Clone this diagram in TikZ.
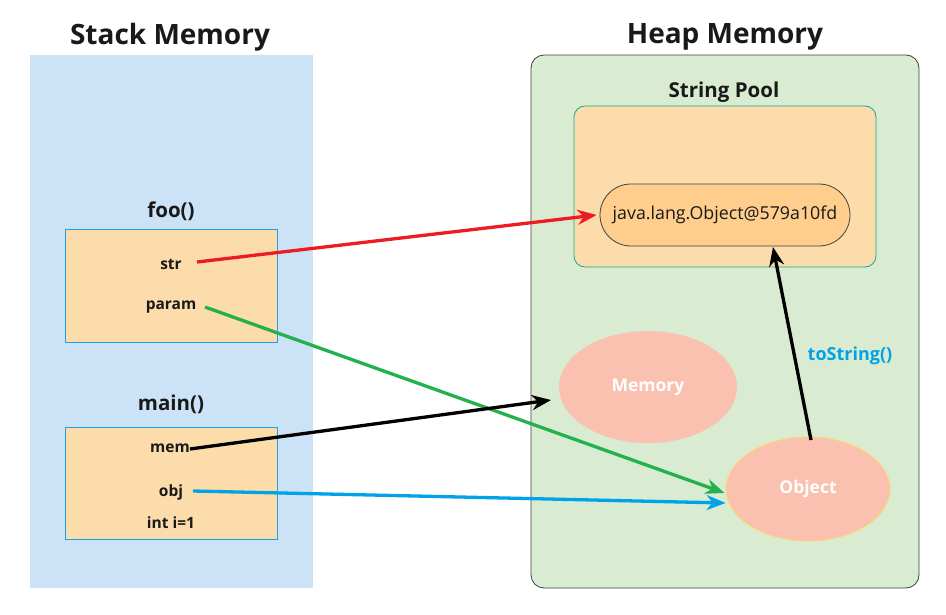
\documentclass[tikz,border=0pt]{standalone}
\usepackage{fontspec}
\setmainfont{Open Sans}
\usetikzlibrary{arrows.meta,shapes.geometric,shapes.misc}
\definecolor{stackblue}{RGB}{204,226,246}
\definecolor{heapgreen}{RGB}{217,236,210}
\definecolor{boxorange}{RGB}{252,220,170}
\definecolor{pillorange}{RGB}{255,206,140}
\definecolor{salmon}{RGB}{250,192,176}
\definecolor{frameblue}{RGB}{27,161,226}
\definecolor{poolteal}{RGB}{20,165,150}
\definecolor{myred}{RGB}{237,28,36}
\definecolor{mygreen}{RGB}{34,177,76}
\definecolor{myblue}{RGB}{0,162,232}
\definecolor{objborder}{RGB}{255,217,102}
\tikzset{
  title/.style={font=\bfseries\fontsize{28}{32}\selectfont, text=black!90, inner sep=0},
  frametitle/.style={font=\bfseries\fontsize{20.5}{24}\selectfont, text=black!90, inner sep=0},
  var/.style={font=\bfseries\fontsize{15.5}{18}\selectfont, text=black!90, inner sep=0},
  framebox/.style={draw=frameblue, fill=boxorange, line width=0.8pt},
  blob/.style={ellipse, fill=salmon, text=white, font=\bfseries\fontsize{17.5}{20}\selectfont, inner sep=0},
  conn/.style={line width=3.3pt, -{Stealth[length=19pt,width=15pt,inset=6pt]}},
}
\begin{document}
\begin{tikzpicture}[x=1pt,y=-1pt]
\useasboundingbox (0,0) rectangle (946,615);
% panels
\fill[stackblue] (30,55) rectangle (313,588);
\filldraw[fill=heapgreen, draw=black!75, line width=0.8pt, rounded corners=13pt] (531,55) rectangle (919,588);
\node[title] (stackT) at (170,37) {Stack Memory};
\node[title] (heapT) at (725,37) {Heap Memory};
% string pool
\node[frametitle] (poolT) at (724,92) {String Pool};
\filldraw[fill=boxorange, draw=poolteal, line width=0.8pt, rounded corners=11pt] (574,106) rectangle (876,267);
\node[rounded rectangle, draw=black!75, fill=pillorange, line width=0.8pt, minimum width=250pt, minimum height=62pt, inner sep=0, font=\fontsize{17.8}{20}\selectfont, text=black!90] (jlo) at (725,215) {java.lang.Object@579a10fd};
% ellipses
\node[blob, minimum width=178pt, minimum height=112pt] (memE) at (648,387) {Memory};
\node[blob, draw=objborder, line width=0.8pt, minimum width=164pt, minimum height=104pt] (objE) at (808,489) {Object};
\node[font=\bfseries\fontsize{18}{21}\selectfont, text=myblue, inner sep=0] (tos) at (850,356) {toString()};
% foo frame
\node[frametitle] (fooT) at (171,211) {foo()};
\node[framebox, minimum width=212pt, minimum height=113pt, inner sep=0] (fooB) at (171,285.5) {};
\node[var] (str) at (171,264) {str};
\node[var] (param) at (171,307) {param};
% main frame
\node[frametitle] (mainT) at (171,404) {main()};
\node[framebox, minimum width=212pt, minimum height=112pt, inner sep=0] (mainB) at (171,483) {};
\node[var] (mem) at (170,448) {mem};
\node[var] (obj) at (171,492) {obj};
\node[var] (inti) at (171,523) {int i=1};
% connectors
\coordinate (memTip) at (551,400);
\coordinate (strOut) at (197,262);
\coordinate (paramOut) at (205,307);
\coordinate (objOut) at (193,491);
\coordinate (jloIn) at (773,247);
\coordinate (objTop) at (811,440);
\draw[conn, myred] (strOut) -- ([xshift=-3pt]jlo.west);
\draw[conn, mygreen] (paramOut) -- ([yshift=-4pt,xshift=-1pt]objE.west);
\draw[conn, black] (mem.east) ++(0,1) -- (memTip);
\draw[conn, myblue] (objOut) -- ([yshift=-14pt]objE.west);
\draw[conn, black] (objTop) -- (jloIn);
\end{tikzpicture}
\end{document}
